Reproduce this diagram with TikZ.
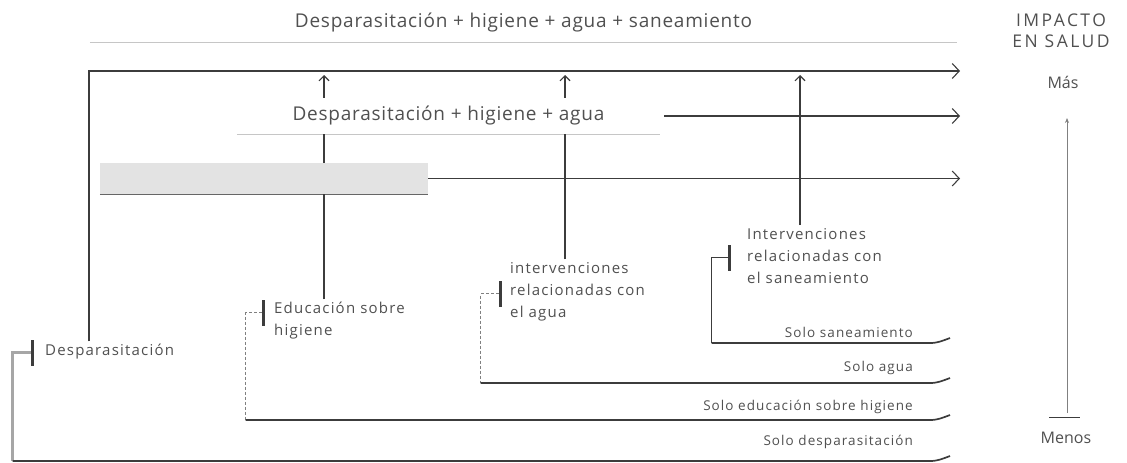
\documentclass[tikz,border=0pt]{standalone}
\usepackage{fontspec}
\setmainfont{Open Sans}
\newfontfamily\combofont[LetterSpace=4]{Open Sans}
\newfontfamily\lblfont[LetterSpace=8]{Open Sans}
\newfontfamily\impfont[LetterSpace=14]{Open Sans}
\usepackage{tikz}
\usetikzlibrary{arrows.meta,calc}
\usepackage{xcolor}
\definecolor{ink}{HTML}{3C3C3C}
\definecolor{txt}{HTML}{505050}

\begin{document}
\begin{tikzpicture}
    [   x=1pt, y=-1pt
    ,   every node/.style={text=txt}
    ,   combo/.style=
        {   font=\combofont\fontsize{19}{20}\selectfont
        ,   inner sep=0pt
        }
    ,   lbl/.style=
        {   anchor=west
        ,   align=left
        ,   inner sep=3pt
        ,   font=\lblfont\fontsize{15}{22}\selectfont
        }
    ,   sololbl/.style=
        {   anchor=east
        ,   inner sep=0pt
        ,   font=\lblfont\fontsize{13.5}{15}\selectfont
        }
    ,   bar/.style=
        {   draw=ink
        ,   fill=ink
        ,   minimum width=2.5pt
        ,   minimum height=25pt
        ,   inner sep=0pt
        }
    ,   rule/.style={draw=gray!45, line width=0.8pt}
    ,   flow/.style={draw=ink, line width=1.1pt}
    ,   up/.style={flow, -{Straight Barb[length=5pt,width=10pt]}}
    ,   solo/.style={draw=ink, line width=1.7pt}
    ,   dropthick/.style={draw=gray!70, line width=3.5pt}
    ,   dropmid/.style={draw=ink, line width=1.8pt}
    ,   dropthin/.style={draw=gray, line width=0.7pt, densely dashed}
    ,   >={Straight Barb[length=7pt,width=15pt]}
    ]
    \useasboundingbox (0,0) rectangle (1127,463);

    % combinations
    \node[combo, minimum width=867pt, minimum height=38pt] (T) at (523.5,23)
        {Desparasitación + higiene + agua + saneamiento};
    \draw[rule] (T.south west) -- (T.south east);
    \node[combo, font=\combofont\fontsize{19}{20}\selectfont, minimum width=423pt, minimum height=36pt]
        (M) at (448.5,116) {Desparasitación + higiene + agua};
    \draw[rule] (M.south west) -- (M.south east);
    \node[fill=gray!22, minimum width=328pt, minimum height=31pt, inner sep=0pt]
        (G) at (264,178.5) {};
    \draw[draw=gray!80!black, line width=1.2pt] (G.south west) -- (G.south east);

    \coordinate (top0) at (89,71);
    \coordinate (topE) at (960,71);
    \coordinate (upH) at (324,75);
    \coordinate (upA) at (565,75);
    \coordinate (upS) at (800,75);

    % interventions
    \node[lbl] (Dlab) at (42,352) {Desparasitación};
    \node[lbl] (Hlab) at (271,321) {Educación sobre\\higiene};
    \node[lbl] (Alab) at (507,292) {intervenciones\\relacionadas con\\el agua};
    \node[lbl] (Slab) at (744,256) {Intervenciones\\relacionadas con\\el saneamiento};
    \node[bar] (barD) at (32,352.5) {};
    \node[bar] (barH) at (263,312.5) {};
    \node[bar] (barA) at (500,293.5) {};
    \node[bar] (barS) at (729,257.5) {};

    % upward
    \draw[flow,->] (Dlab.north -| top0) |- (topE);
    \draw[flow,->] (G.east) -- (G.east -| topE);
    \draw[flow,->] ([xshift=4pt]M.east) -- (M.east -| topE);
    \draw[flow] (Hlab.north -| upH) -- (G.south -| upH);
    \draw[flow] (G.north -| upH) -- (M.south -| upH);
    \draw[up] (M.north -| upH) -- (upH);
    \draw[flow] (Alab.north -| upA) -- (M.south -| upA);
    \draw[up] (M.north -| upA) -- (upA);
    \draw[up] (Slab.north -| upS) -- (upS);

    % solo
    \coordinate (endD) at (930,461);
    \coordinate (endH) at (930,420);
    \coordinate (endA) at (930,383);
    \coordinate (endS) at (930,343);
    \node[sololbl] (soloS) at (913,332) {Solo saneamiento};
    \node[sololbl] (soloA) at (913,368) {Solo agua};
    \node[sololbl] (soloH) at (913,407) {Solo educación sobre higiene};
    \node[sololbl] (soloD) at (913,442) {Solo desparasitación};
    \foreach\k/\dx/\sty in {D/18/dropthick,H/16/dropthin,A/18/dropthin,S/16/dropmid}
    {   \draw[\sty] (bar\k.west) -- ++(-\dx,0) coordinate (hook\k) -- (hook\k |- end\k);
        \draw[solo] (hook\k |- end\k) -- (end\k) to [out=0,in=200] ++(20,-5);
    }

    % impact scale
    \node[font=\impfont\fontsize{17.5}{21}\selectfont, align=center] (imp) at (1061,31)
        {IMPACTO\\EN SALUD};
    \node[font=\fontsize{16}{18}\selectfont] (mas) at (1063,82) {Más};
    \node[font=\fontsize{16}{18}\selectfont] (menos) at (1066,438) {Menos};
    \coordinate (lo) at (1067,413);
    \coordinate (hi) at (1067,118);
    \draw[draw=gray, line width=0.8pt, -{Stealth[length=5pt,width=4pt]}] (lo) -- (hi);
    \draw[draw=ink, line width=1pt] (1049,417) -- (1080,417);
\end{tikzpicture}
\end{document}
